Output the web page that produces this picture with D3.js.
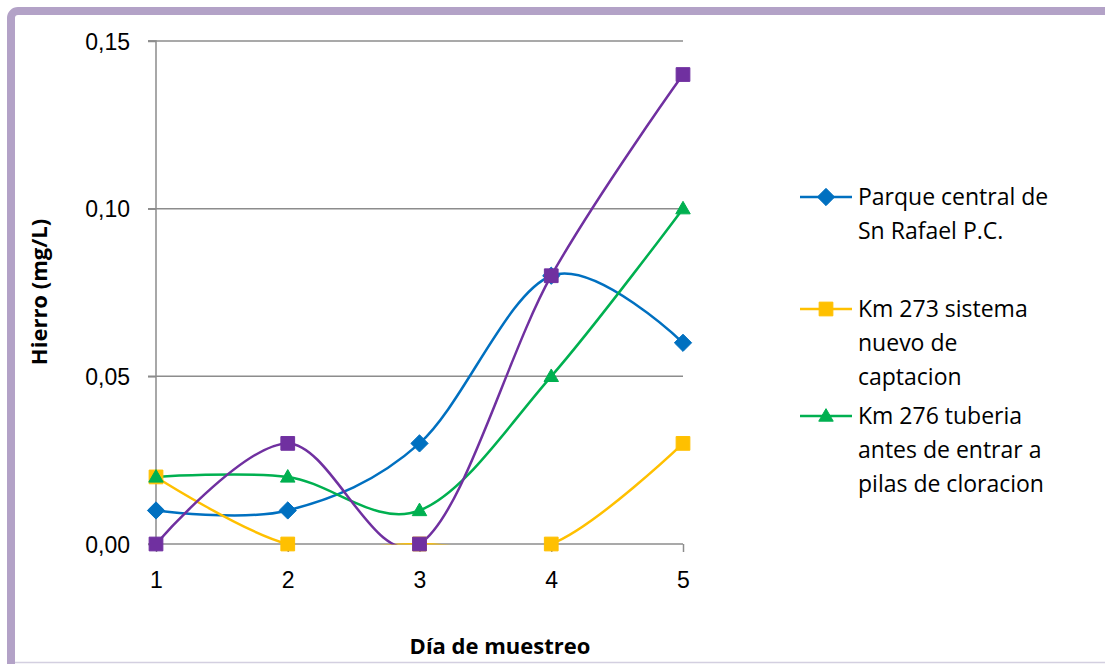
<!DOCTYPE html>
<html>
<head>
<meta charset="utf-8">
<script src="https://cdn.jsdelivr.net/npm/d3@7"></script>
<style>
  html, body { margin: 0; padding: 0; background: #fff; }
  svg { display: block; font-family: "Open Sans", "Liberation Sans", sans-serif; }
</style>
</head>
<body>
<svg id="chart" width="1105" height="664"></svg>
<script>
// Muestreo de hierro por punto de toma
const days = [1, 2, 3, 4, 5];
const yTicks = [0, 0.05, 0.10, 0.15];

const parqueCentral = [0.01, 0.01, 0.03, 0.08, 0.06];
const km273 = [0.02, 0.00, 0.00, 0.00, 0.03];
const km276 = [0.02, 0.02, 0.01, 0.05, 0.10];
const cuartoPunto = [0.00, 0.03, 0.00, 0.08, 0.14];

const seriesNames = [
  ["Parque central de", "Sn Rafael P.C."],
  ["Km 273 sistema", "nuevo de", "captacion"],
  ["Km 276 tuberia", "antes de entrar a", "pilas de cloracion"],
  ["Punto 4"]
];

const series = [
  { name: seriesNames[0], values: parqueCentral, color: "#0070C0", marker: "diamond", legend: true },
  { name: seriesNames[1], values: km273, color: "#FFC000", marker: "square", legend: true },
  { name: seriesNames[2], values: km276, color: "#00B050", marker: "triangle", legend: true },
  { name: seriesNames[3], values: cuartoPunto, color: "#7030A0", marker: "square", legend: false }
];

const svg = d3.select("#chart");

// marco exterior
svg.append("rect")
  .attr("x", 11).attr("y", 11)
  .attr("width", 1200).attr("height", 700)
  .attr("rx", 7)
  .attr("fill", "#fff")
  .attr("stroke", "#B3A2C7")
  .attr("stroke-width", 8);
svg.append("line")
  .attr("x1", 15).attr("x2", 1105)
  .attr("y1", 662.5).attr("y2", 662.5)
  .attr("stroke", "#D3CFE0").attr("stroke-width", 1.5);

const x = d3.scaleLinear().domain([1, 5]).range([156, 683]);
const y = d3.scaleLinear().domain([0, 0.15]).range([544, 41]);

const fmt = d => d3.format(".2f")(d).replace(".", ",");

// área de trazado (las curvas se recortan a ella)
svg.append("clipPath").attr("id", "plot-area")
  .append("rect")
  .attr("x", 0).attr("y", y(0.15))
  .attr("width", 1105).attr("height", y(0) - y(0.15) + 0.5);

// rejilla horizontal
svg.append("g")
  .selectAll("line")
  .data(yTicks.filter(d => d > 0))
  .join("line")
  .attr("x1", 148).attr("x2", 683)
  .attr("y1", d => y(d)).attr("y2", d => y(d))
  .attr("stroke", "#8C8C8C").attr("stroke-width", 1.5);

// eje Y
const yAxis = d3.axisLeft(y).tickValues(yTicks).tickSize(8).tickPadding(18).tickFormat(fmt);
const gy = svg.append("g").attr("transform", "translate(156,0)").call(yAxis);
gy.select(".domain").attr("stroke", "#8C8C8C").attr("stroke-width", 1.5).attr("d", `M-8,${y(0)}H0V${y(0.15)}H-8`);
gy.selectAll(".tick line").attr("stroke", "#8C8C8C").attr("stroke-width", 1.5);
gy.selectAll(".tick text").attr("font-size", 23).attr("fill", "#000").attr("dy", "0.35em");

// eje X
const xAxis = d3.axisBottom(x).tickValues(days).tickSize(8).tickPadding(20).tickFormat(d3.format("d"));
const gx = svg.append("g").attr("transform", `translate(0,${y(0)})`).call(xAxis);
gx.select(".domain").attr("stroke", "#8C8C8C").attr("stroke-width", 1.5).attr("d", `M${x(1)},0H${x(5)}`);
gx.selectAll(".tick line").attr("stroke", "#8C8C8C").attr("stroke-width", 1.5);
gx.selectAll(".tick text").attr("font-size", 23).attr("fill", "#000");

// títulos de ejes
svg.append("text")
  .attr("x", 500).attr("y", 654)
  .attr("text-anchor", "middle")
  .attr("font-size", 22).attr("font-weight", "bold")
  .text("Día de muestreo");
svg.append("text")
  .attr("transform", "translate(47,292) rotate(-90)")
  .attr("text-anchor", "middle")
  .attr("font-size", 22).attr("font-weight", "bold")
  .text("Hierro (mg/L)");

const line = d3.line()
  .x((d, i) => x(days[i]))
  .y(d => y(d))
  .curve(d3.curveCardinal.tension(0));

const symbolFor = m => m === "diamond" ? d3.symbolDiamond2 : m === "triangle" ? d3.symbolTriangle2 : d3.symbolSquare2;
const sizeFor = m => m === "diamond" ? 190 : m === "triangle" ? 150 : 240;
const shape = m => d3.symbol().type(symbolFor(m)).size(sizeFor(m))();

const plot = svg.append("g");
const curves = plot.append("g").attr("clip-path", "url(#plot-area)");
series.forEach(s => {
  curves.append("path")
    .attr("d", line(s.values))
    .attr("fill", "none")
    .attr("stroke", s.color)
    .attr("stroke-width", 2.5);
});
series.forEach(s => {
  plot.append("g")
    .selectAll("path")
    .data(s.values)
    .join("path")
    .attr("transform", (d, i) => `translate(${x(days[i])},${y(d) + (s.marker === "triangle" ? 1 : 0)})`)
    .attr("d", shape(s.marker))
    .attr("fill", s.color)
    .attr("stroke", s.color)
    .attr("stroke-width", 1)
    .attr("stroke-linejoin", "round");
});

// leyenda
const legendRows = [197, 309, 416];
const legend = svg.append("g");
series.filter(s => s.legend).forEach((s, k) => {
  const cy = legendRows[k];
  const g = legend.append("g");
  g.append("line")
    .attr("x1", 800).attr("x2", 852)
    .attr("y1", cy).attr("y2", cy)
    .attr("stroke", s.color).attr("stroke-width", 2.5);
  g.append("path")
    .attr("transform", `translate(826,${cy + (s.marker === "triangle" ? 1 : 0)})`)
    .attr("d", shape(s.marker))
    .attr("fill", s.color).attr("stroke", s.color).attr("stroke-width", 1);
  s.name.forEach((t, j) => {
    g.append("text")
      .attr("x", 858).attr("y", cy + j * 34)
      .attr("dy", "0.35em")
      .attr("font-size", 23)
      .attr("fill", "#000")
      .text(t);
  });
});
</script>
</body>
</html>
